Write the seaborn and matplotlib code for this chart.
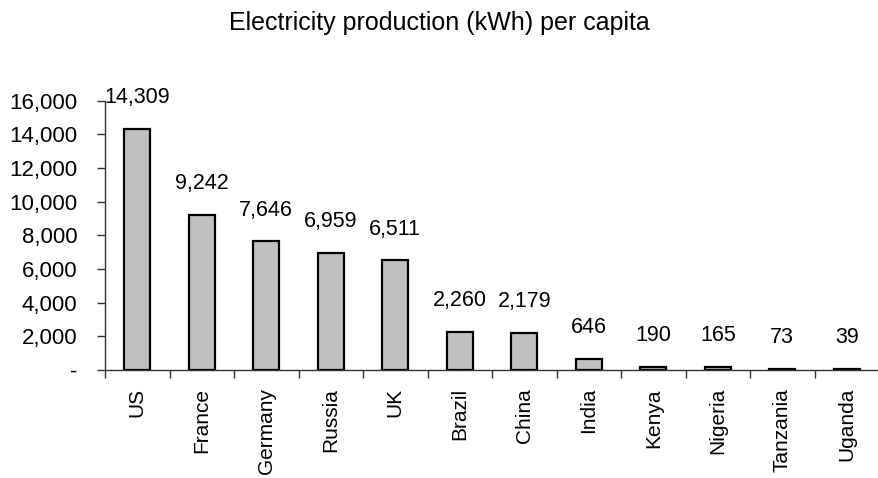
import matplotlib
matplotlib.use("Agg")
import matplotlib.pyplot as plt
import seaborn as sns
import pandas as pd
import numpy as np
from matplotlib.ticker import FuncFormatter, FixedLocator

countries = ["US", "France", "Germany", "Russia", "UK", "Brazil", "China",
             "India", "Kenya", "Nigeria", "Tanzania", "Uganda"]
values = [14309, 9242, 7646, 6959, 6511, 2260, 2179, 646, 190, 165, 73, 39]
title = "Electricity production (kWh) per capita"

sns.set_theme(style="white")
plt.rcParams['font.family'] = ['Liberation Sans', 'DejaVu Sans']
plt.rcParams['text.color'] = 'black'

df = pd.DataFrame({"country": countries, "value": values})

fig = plt.figure(figsize=(8.79, 4.78), dpi=100)
ax = fig.add_axes([0.1195, 0.226, 0.8805, 0.563])

sns.barplot(data=df, x="country", y="value", ax=ax, color="#C0C0C0",
            edgecolor="black", linewidth=1.6, width=0.4, saturation=1)

ax.set_ylim(0, 16000)
ax.set_xlim(-0.5, len(countries) - 0.5)
ax.set_yticks(np.arange(0, 16001, 2000))
ax.yaxis.set_major_formatter(FuncFormatter(lambda v, p: "-" if v == 0 else f"{int(v):,}"))

for i, v in enumerate(values):
    ax.annotate(f"{v:,}", (i, v), xytext=(0, 15), textcoords="offset points",
                ha="center", va="bottom", fontsize=15.5, color="black")

for s in ["top", "right"]:
    ax.spines[s].set_visible(False)
for s in ["left", "bottom"]:
    ax.spines[s].set_color("#333333")
    ax.spines[s].set_linewidth(1.0)

ax.tick_params(axis="y", which="major", left=True, length=6, width=1,
               color="#333333", labelsize=16, pad=14, labelcolor="black")
ax.tick_params(axis="x", which="major", bottom=False, length=0, labelsize=15,
               labelrotation=90, pad=13, labelcolor="black")
ax.xaxis.set_minor_locator(FixedLocator(np.arange(-0.5, len(countries), 1.0)))
ax.tick_params(axis="x", which="minor", bottom=True, length=6, width=1, color="#333333")

ax.set_xlabel("")
ax.set_ylabel("")
fig.text(0.5, 0.952, title, ha="center", va="center", fontsize=18, color="black")

fig.savefig("out.png", dpi=100)
